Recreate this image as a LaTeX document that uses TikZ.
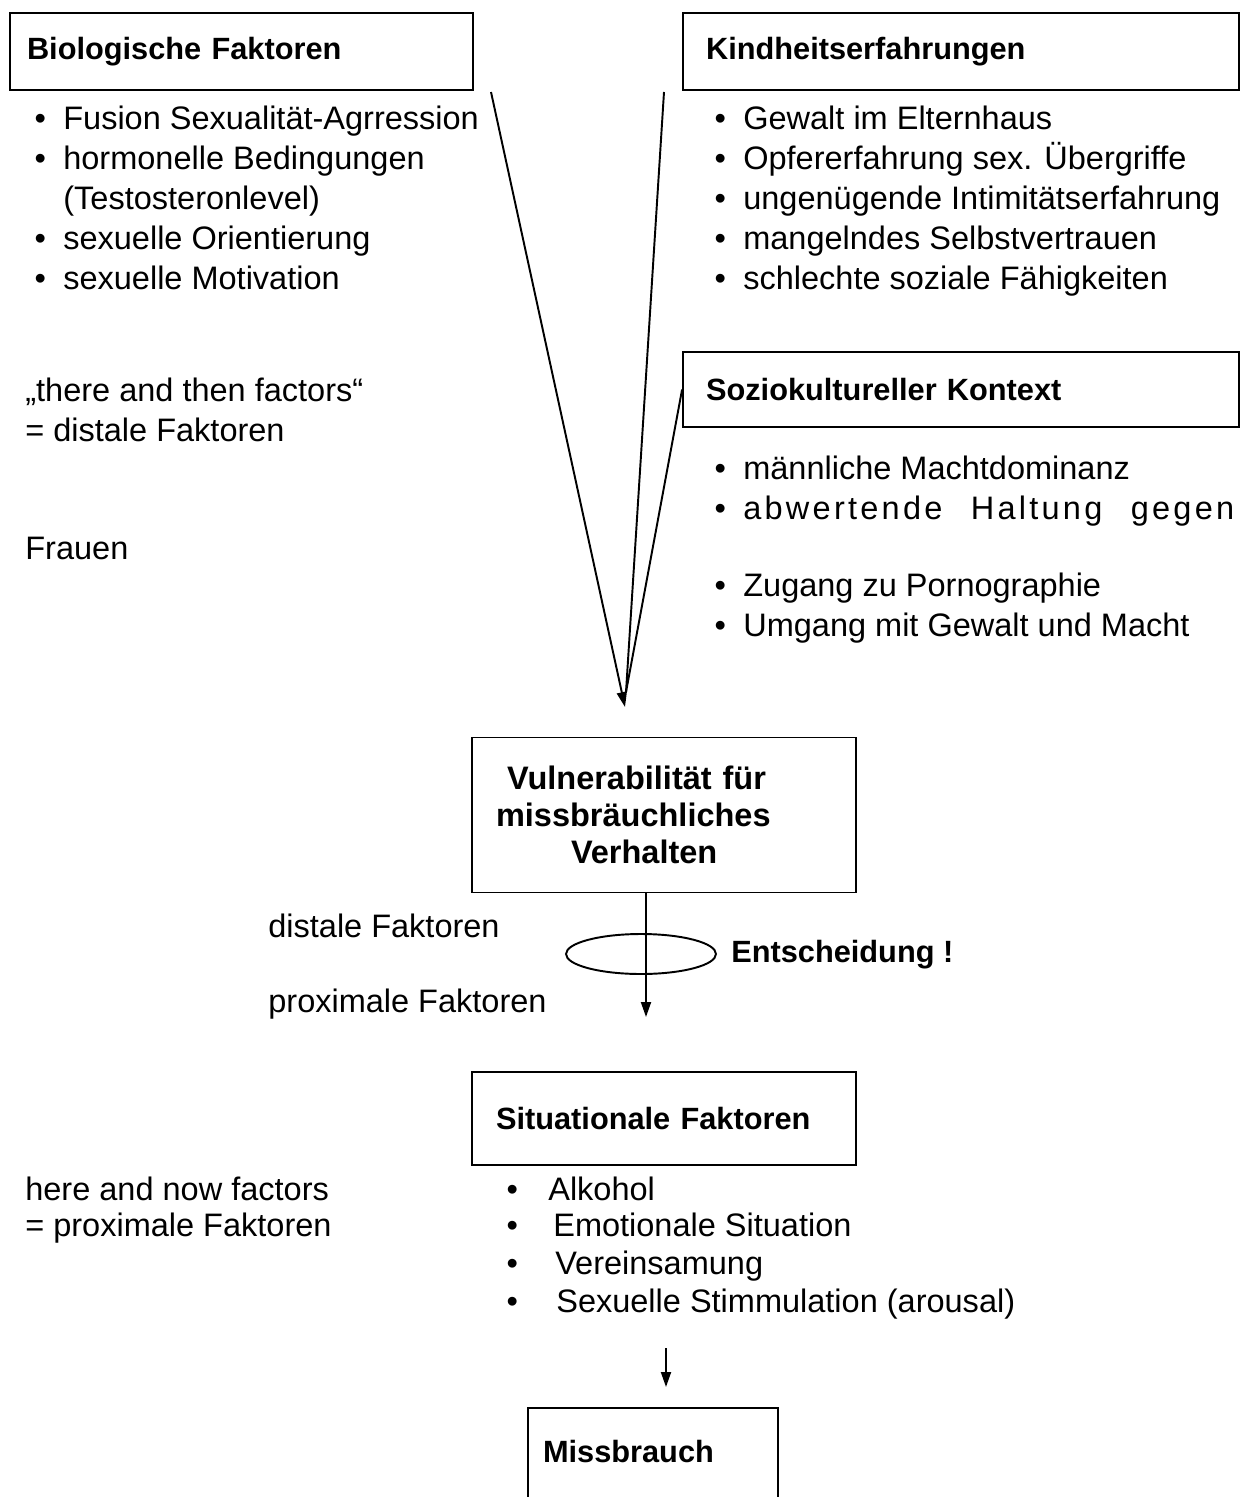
\documentclass[tikz,border=0pt]{standalone}
\usepackage{fontspec}
\setmainfont{Liberation Sans}
\usepackage{tikz}
\usetikzlibrary{arrows.meta,positioning,shapes.geometric}
\newcommand{\linew}{1.1pt}
\newcommand{\blt}[2][0.574cm]{\makebox[#1][l]{•}#2}

\tikzset{
  box/.style={draw, line width=\linew, rectangle, align=left, inner ysep=0pt, font=\bfseries\fontsize{17.5}{19.9}\selectfont},
  item/.style={anchor=west, inner sep=0pt, text height=13.9pt, text depth=4.6pt, font=\fontsize{18.5}{22}\selectfont},
  link/.style={line width=\linew},
  conn/.style={line width=\linew, -{Triangle[length=0.3cm,width=0.2cm]}},
}

\begin{document}
\begin{tikzpicture}[x=0.02cm, y=-0.02cm]
\useasboundingbox (0,0) rectangle (1244,1497);
\clip (0,0) rectangle (1244,1497);
%boxes
\node[box, inner xsep=0.34cm, text width=8.58cm, minimum height=1.54cm] (bio) at (241.5, 51.5) {Biologische Faktoren};
\node[box, inner xsep=0.46cm, text width=10.2cm, minimum height=1.54cm] (kind) at (961, 51.5) {Kindheitserfahrungen};
\node[box, inner xsep=0.46cm, text width=10.2cm, minimum height=1.5cm] (sozio) at (961, 389.5) {Soziokultureller Kontext};
\node[box, inner xsep=0.48cm, text width=6.72cm, minimum height=3.1cm, font=\bfseries\fontsize{18.5}{21}\selectfont] (vuln) at (664, 815) {\hspace*{0.22cm}Vulnerabilität für\\missbräuchliches\\\hspace*{1.5cm}Verhalten};
\node[box, inner xsep=0.48cm, text width=6.72cm, minimum height=1.86cm] (situ) at (664, 1118.5) {Situationale Faktoren};
\node[box, inner xsep=0.3cm, text width=4.4cm, minimum height=2.64cm] (miss) at (653, 1474) {Missbrauch\\\strut};
%biologisch
\node[item] (bio1) at (34.3, 121) {\blt{Fusion Sexualität-Agrression}};
\node[item] (bio2) at (34.3, 161) {\blt{hormonelle Bedingungen}};
\node[item] (bio3) at (63, 201) {(Testosteronlevel)};
\node[item] (bio4) at (34.3, 241) {\blt{sexuelle Orientierung}};
\node[item] (bio5) at (34.3, 281) {\blt{sexuelle Motivation}};
%kindheit
\node[item] (kind1) at (714.3, 121) {\blt{Gewalt im Elternhaus}};
\node[item] (kind2) at (714.3, 161) {\blt{Opfererfahrung sex. Übergriffe}};
\node[item] (kind3) at (714.3, 201) {\blt{ungenügende Intimitätserfahrung}};
\node[item] (kind4) at (714.3, 241) {\blt{mangelndes Selbstvertrauen}};
\node[item] (kind5) at (714.3, 281) {\blt{schlechte soziale Fähigkeiten}};
%soziokulturell
\node[item] (soz1) at (714.3, 471) {\blt{männliche Machtdominanz}};
\node[item] (soz2) at (714.3, 511) {\blt{\makebox[9.82cm][s]{\addfontfeature{LetterSpace=10}abwertende\hfill Haltung\hfill gegen}}};
\node[item] (soz3) at (714.3, 588) {\blt{Zugang zu Pornographie}};
\node[item] (soz4) at (714.3, 628) {\blt{Umgang mit Gewalt und Macht}};
%links
\node[item] (there) at (25, 393) {„there and then factors“};
\node[item] (thereeq) at (25, 433) {= distale Faktoren};
\node[item] (frauen) at (25, 551) {Frauen};
%zusammenfluss
\coordinate (bioout) at (491, 92);
\coordinate (kindout) at (664, 92);
\coordinate (join) at (626, 692);
\coordinate (tip) at (625, 707);
\draw[conn] (bioout) -- (tip);
\draw[link] (kindout) -- (join);
\draw[link] (sozio.west) -- (join);
%entscheidung
\node[item] (dist) at (268, 929) {distale Faktoren};
\node[item] (prox) at (268, 1004) {proximale Faktoren};
\node[draw, ellipse, line width=\linew, minimum width=3cm, minimum height=0.8cm, inner sep=0pt] (decision) at (641, 954) {};
\node[item, font=\bfseries\fontsize{17.5}{21}\selectfont, right=0.28cm of decision] (decide) {Entscheidung !};
\coordinate (decend) at (646, 1017);
\draw[conn] (vuln.south -| decend) -- (decend);
%situation
\node[item] (here) at (25, 1192) {here and now factors};
\node[item] (hereeq) at (25, 1228) {= proximale Faktoren};
\node[item] (sit1) at (506.3, 1192) {\blt[0.834cm]{Alkohol}};
\node[item] (sit2) at (506.3, 1228) {\blt[0.934cm]{Emotionale Situation}};
\node[item] (sit3) at (506.3, 1266) {\blt[0.974cm]{Vereinsamung}};
\node[item] (sit4) at (506.3, 1304) {\blt[0.994cm]{Sexuelle Stimmulation (arousal)}};
\coordinate (sitout) at (666, 1348);
\coordinate (missin) at (666, 1387);
\draw[conn] (sitout) -- (missin);
\end{tikzpicture}
\end{document}
